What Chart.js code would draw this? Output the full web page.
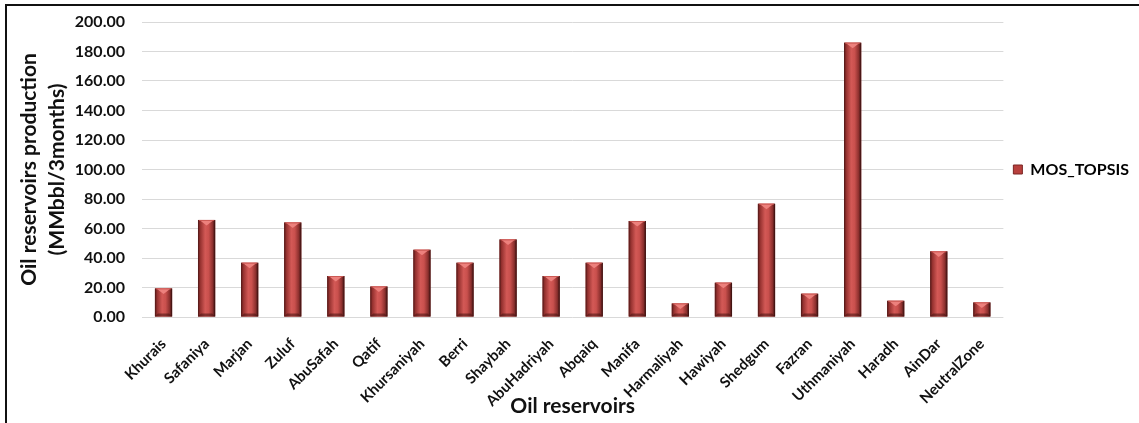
<!DOCTYPE html>
<html>
<head>
<meta charset="utf-8">
<script src="https://cdn.jsdelivr.net/npm/chart.js@4/dist/chart.umd.min.js"></script>
<style>
  html, body { margin: 0; padding: 0; background: #fff; }
  #frame {
    position: absolute; left: 5px; top: 4px; width: 1134px; height: 419px;
    border-left: 2px solid #111; border-top: 2px solid #111;
  }
  #wrap { position: absolute; left: 0; top: 0; width: 1139px; height: 423px; }
</style>
</head>
<body>
<div id="frame"></div>
<div id="wrap"><canvas id="chart" width="1139" height="423"></canvas></div>
<script>
// Reservoir names along the x axis
const reservoirs = [
  "Khurais", "Safaniya", "Marjan", "Zuluf", "AbuSafah", "Qatif", "Khursaniyah",
  "Berri", "Shaybah", "AbuHadriyah", "Abqaiq", "Manifa", "Harmaliyah", "Hawiyah",
  "Shedgum", "Fazran", "Uthmaniyah", "Haradh", "AinDar", "NeutralZone"
];
// Production per reservoir, MMbbl per 3 months
const mosTopsis = [
  19.4, 65.8, 36.8, 64.1, 27.8, 20.7, 45.6,
  36.8, 52.6, 27.8, 36.8, 65.1, 9.2, 23.3,
  76.8, 15.8, 186.0, 11.0, 44.5, 9.9
];
const seriesName = "MOS_TOPSIS";
const yTicks = { min: 0, max: 200, step: 20 };

const FONT = "Lato, 'Open Sans', sans-serif";

// Shaded body plus bevelled caps, painted over each bar the scale placed
const bevelPlugin = {
  id: "bevel",
  afterDatasetsDraw(chart) {
    const ctx = chart.ctx;
    chart.getSortedVisibleDatasetMetas().forEach(meta => {
      meta.data.forEach(bar => {
        const p = bar.getProps(["x", "y", "base", "width"], true);
        const l = p.x - p.width / 2, r = p.x + p.width / 2;
        const top = Math.min(p.y, p.base), bot = Math.max(p.y, p.base);
        const h = bot - top;
        ctx.save();
        const g = ctx.createLinearGradient(l, 0, r, 0);
        g.addColorStop(0.0, "#4a1514");
        g.addColorStop(0.12, "#93302e");
        g.addColorStop(0.42, "#d35956");
        g.addColorStop(0.62, "#c9504d");
        g.addColorStop(0.86, "#8a2f2d");
        g.addColorStop(1.0, "#2e0c0b");
        ctx.fillStyle = g;
        ctx.fillRect(l, top, p.width, h);

        const cap = Math.min(p.width * 0.32, h / 2);
        // top face: light triangle pointing down
        ctx.beginPath();
        ctx.moveTo(l + 1.5, top);
        ctx.lineTo(r - 1.5, top);
        ctx.lineTo(p.x, top + cap);
        ctx.closePath();
        ctx.fillStyle = "rgba(238,132,128,0.95)";
        ctx.fill();
        ctx.fillStyle = "rgba(200,84,80,0.9)";
        ctx.fillRect(l + 1, top, p.width - 2, 1);

        // bottom bevel
        const bb = Math.min(3, h / 3);
        ctx.beginPath();
        ctx.moveTo(l, bot);
        ctx.lineTo(r, bot);
        ctx.lineTo(r - 3, bot - bb);
        ctx.lineTo(l + 3, bot - bb);
        ctx.closePath();
        ctx.fillStyle = "rgba(70,18,17,0.55)";
        ctx.fill();
        ctx.restore();
      });
    });
  }
};

new Chart(document.getElementById("chart"), {
  type: "bar",
  data: {
    labels: reservoirs,
    datasets: [{
      label: seriesName,
      data: mosTopsis,
      backgroundColor: "#c0504d",
      borderWidth: 0,
      barPercentage: 0.8,
      categoryPercentage: 0.5
    }]
  },
  options: {
    responsive: false,
    animation: false,
    devicePixelRatio: 1,
    layout: { padding: { left: 16, right: 0, top: 22, bottom: 4 } },
    plugins: {
      legend: {
        position: "right",
        align: "center",
        fullSize: false,
        labels: {
          boxWidth: 9,
          boxHeight: 9,
          padding: 10,
          color: "#111",
          font: { family: FONT, size: 16, weight: "bold" },
          generateLabels() {
            return [{
              text: seriesName,
              fillStyle: "#b8403d",
              strokeStyle: "#7a2523",
              lineWidth: 1,
              datasetIndex: 0
            }];
          }
        }
      },
      tooltip: { enabled: false }
    },
    scales: {
      x: {
        grid: { display: false },
        border: { display: false },
        afterFit(scale) { scale.height = 102; },
        ticks: {
          color: "#111",
          minRotation: 45,
          maxRotation: 45,
          autoSkip: false,
          padding: 10,
          font: { family: FONT, size: 15, weight: "bold" }
        },
        title: {
          display: true,
          text: "Oil reservoirs",
          color: "#111",
          padding: { top: 0, bottom: 0 },
          font: { family: FONT, size: 21, weight: "bold" }
        }
      },
      y: {
        min: yTicks.min,
        max: yTicks.max,
        grid: { color: "#d9d9d9", lineWidth: 1, drawTicks: false },
        border: { display: false },
        afterFit(scale) {
          scale.width = 126;
          scale.paddingTop = 0;
          scale.paddingBottom = 0;
        },
        ticks: {
          stepSize: yTicks.step,
          padding: 17,
          color: "#111",
          font: { family: FONT, size: 16, weight: "bold" },
          callback: v => Number(v).toFixed(2)
        },
        title: {
          display: true,
          text: ["Oil reservoirs production", "(MMbbl/3months)"],
          color: "#111",
          padding: { top: 0, bottom: 0 },
          font: { family: FONT, size: 21, weight: "bold", lineHeight: 1.3 }
        }
      }
    }
  },
  plugins: [bevelPlugin]
});
</script>
</body>
</html>
